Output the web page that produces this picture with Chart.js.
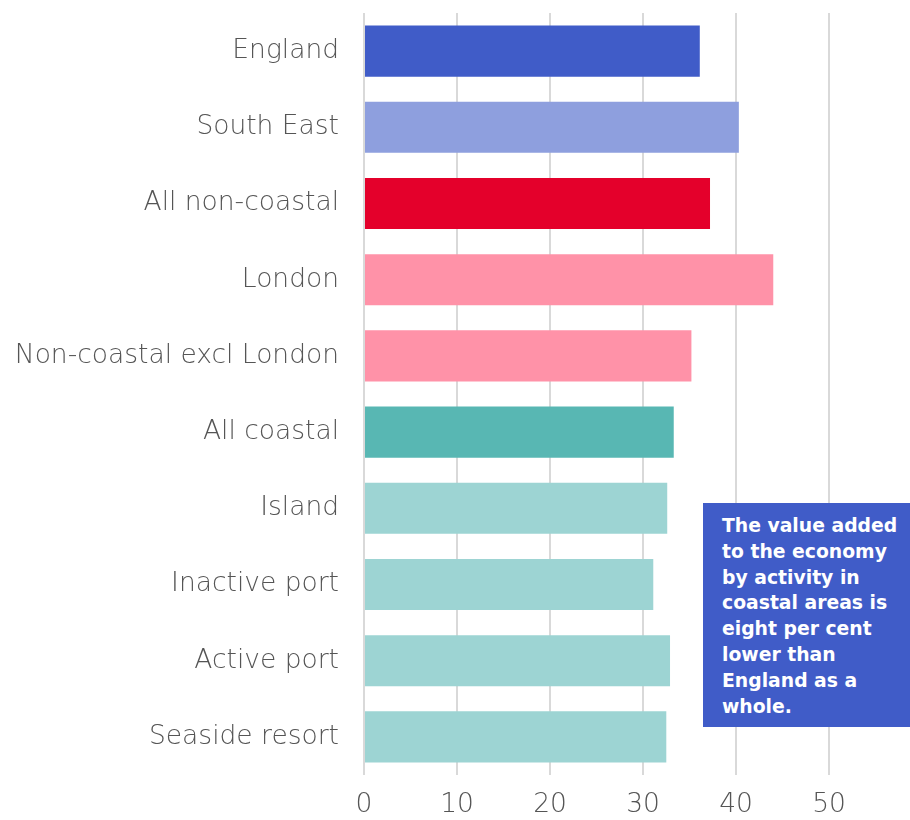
<!DOCTYPE html>
<html><head><meta charset="utf-8">
<script src="https://cdn.jsdelivr.net/npm/chart.js@4.4.1/dist/chart.umd.min.js"></script>
<style>
html,body{margin:0;padding:0;background:#fff;overflow:hidden;}
#wrap{position:relative;width:910px;height:820px;}
#note{position:absolute;left:703px;top:503px;width:207px;height:224px;background:#405CC8;color:#fff;
font-family:"DejaVu Sans",sans-serif;font-weight:bold;font-size:18.8px;line-height:25.8px;box-sizing:border-box;padding:10px 0 0 19px;white-space:nowrap;}
</style></head>
<body><div id="wrap"><canvas id="c" width="910" height="820"></canvas>
<div id="note">The value added<br>to the economy<br>by activity in<br>coastal areas is<br>eight per cent<br>lower than<br>England as a<br>whole.</div></div>
<script>
const categories = ["England","South East","All non-coastal","London","Non-coastal excl London","All coastal","Island","Inactive port","Active port","Seaside resort"];
const values = [36.1, 40.3, 37.2, 44.0, 35.2, 33.3, 32.6, 31.1, 32.9, 32.5];
const barColors = ["#405CC8","#8E9FDE","#E4002B","#FF92A8","#FF92A8","#58B7B3","#9DD4D3","#9DD4D3","#9DD4D3","#9DD4D3"];
const xTicks = [0,10,20,30,40,50];
const fontSpec = { family: 'DejaVu Sans', size: 26.5, weight: 200 };

new Chart(document.getElementById('c'), {
  type: 'bar',
  data: { labels: categories, datasets: [{ data: values, backgroundColor: barColors, borderWidth: 0, categoryPercentage: 0.67, barPercentage: 1 }] },
  options: {
    indexAxis: 'y', responsive: false, animation: false,
    layout: { padding: { top: 13, right: 0, left: 0, bottom: 0 } },
    plugins: { legend: { display: false }, tooltip: { enabled: false } },
    scales: {
      x: {
        min: 0, max: 58.7,
        afterBuildTicks: s => { s.ticks = xTicks.map(v => ({ value: v })); },
        afterFit: s => { s.height = 45; s.paddingLeft = 0; s.paddingRight = 0; },
        grid: { color: '#d9d9d9', lineWidth: 2, drawTicks: false },
        border: { display: false },
        ticks: { padding: 14, color: '#555555', font: fontSpec }
      },
      y: {
        afterFit: s => { s.width = 364; s.paddingTop = 0; s.paddingBottom = 0; },
        grid: { display: false, drawTicks: false },
        border: { display: false },
        ticks: { padding: 25, color: '#555555', font: fontSpec }
      }
    }
  }
});
</script></body></html>
